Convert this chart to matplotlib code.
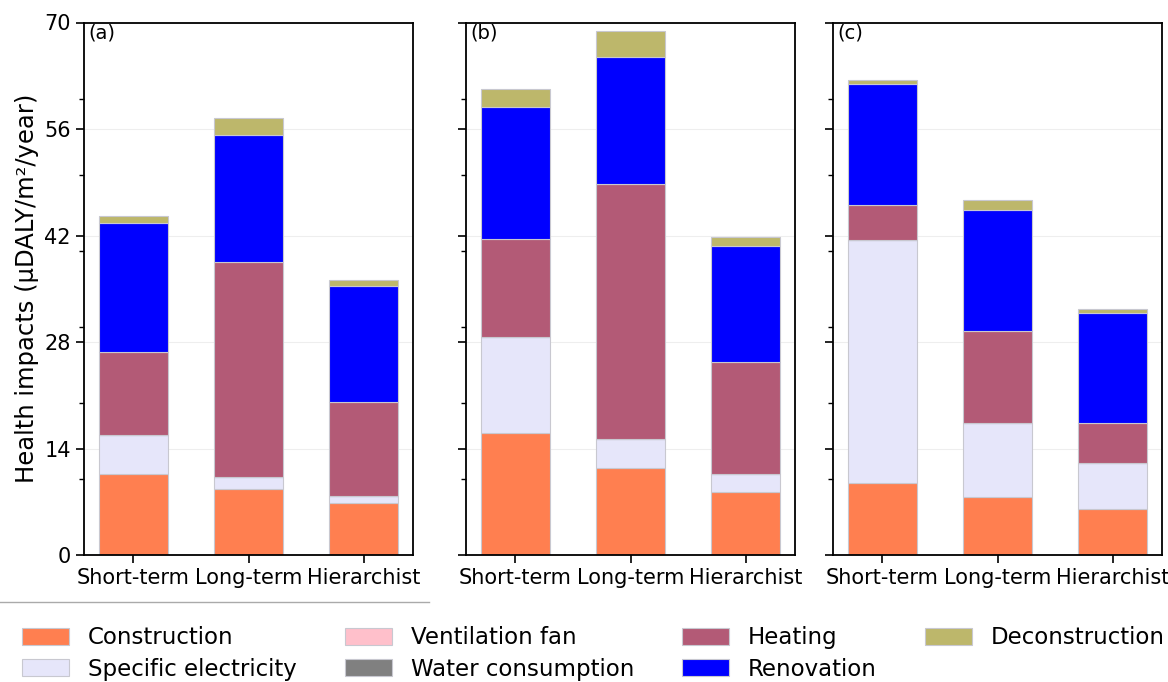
import matplotlib.pyplot as plt
from matplotlib.lines import Line2D
from matplotlib.ticker import MultipleLocator

# Data
scenarios = ['Short-term', 'Long-term', 'Hierarchist']
panels = ['(a)', '(b)', '(c)']
components = ['Construction', 'Specific electricity', 'Ventilation fan',
              'Water consumption', 'Heating', 'Renovation', 'Deconstruction']
colors = ['#FF7F50', '#E6E6FA', '#FFC0CB', '#808080', '#B35A76', '#0000FF', '#BDB76B']

# values per panel, per component, per scenario
construction = [[10.7, 8.7, 6.8], [16.1, 11.4, 8.3], [9.4, 7.6, 6.0]]
specific_elec = [[5.1, 1.5, 0.9], [12.6, 3.85, 2.3], [32.0, 9.75, 6.1]]
ventilation = [[0.0, 0.0, 0.0], [0.0, 0.0, 0.0], [0.0, 0.0, 0.0]]
water = [[0.0, 0.0, 0.0], [0.0, 0.0, 0.0], [0.0, 0.0, 0.0]]
heating = [[10.9, 28.35, 12.4], [12.9, 33.55, 14.8], [4.6, 12.15, 5.3]]
renovation = [[17.0, 16.7, 15.2], [17.3, 16.7, 15.2], [15.9, 15.9, 14.4]]
deconstruction = [[0.85, 2.2, 0.8], [2.4, 3.4, 1.2], [0.5, 1.3, 0.55]]

series = [construction, specific_elec, ventilation, water, heating, renovation, deconstruction]

fig = plt.figure(figsize=(11.68, 6.82), dpi=100)
lefts = [84 / 1168, 466 / 1168, 833 / 1168]
w = 329 / 1168
bottom = 1 - 555 / 682
h = (555 - 22.5) / 682

axes = []
for p in range(3):
    ax = fig.add_axes([lefts[p], bottom, w, h])
    base = [0.0, 0.0, 0.0]
    for k in range(len(components)):
        vals = series[k][p]
        ax.bar(range(3), vals, width=0.6, bottom=base, color=colors[k],
               edgecolor='#C8C8D0', linewidth=0.8, label=components[k], zorder=2)
        base = [b + v for b, v in zip(base, vals)]
    ax.set_ylim(0, 70)
    ax.yaxis.set_major_locator(MultipleLocator(14))
    ax.yaxis.set_minor_locator(MultipleLocator(10))
    ax.grid(axis='y', color='#EEEEEE', linewidth=0.8, zorder=0)
    ax.set_xticks(range(3))
    ax.set_xticklabels(scenarios)
    ax.tick_params(axis='both', which='major', length=6, width=1.2, labelsize=15)
    ax.tick_params(axis='y', which='minor', length=3.5, width=1.0)
    for s in ax.spines.values():
        s.set_linewidth(1.3)
    ax.text(0.012, 0.998, panels[p], transform=ax.transAxes, fontsize=14,
            va='top', ha='left')
    if p > 0:
        ax.set_yticklabels([])
    axes.append(ax)

axes[0].set_ylabel('Health impacts (µDALY/m²/year)', fontsize=17.5)

# thin line under the first panel
fig.add_artist(Line2D([0, 429 / 1168], [1 - 601.5 / 682, 1 - 601.5 / 682],
                      color='#AAAAAA', linewidth=1.0))

handles, labels = axes[0].get_legend_handles_labels()
fig.legend(handles, labels, loc='center', bbox_to_anchor=(593.5 / 1168, 1 - 653.5 / 682),
           ncol=4, frameon=False, fontsize=16.5, handlelength=2.05, handleheight=0.75,
           columnspacing=2.1, labelspacing=0.35, handletextpad=0.83)

fig.savefig('out.png', dpi=100)
